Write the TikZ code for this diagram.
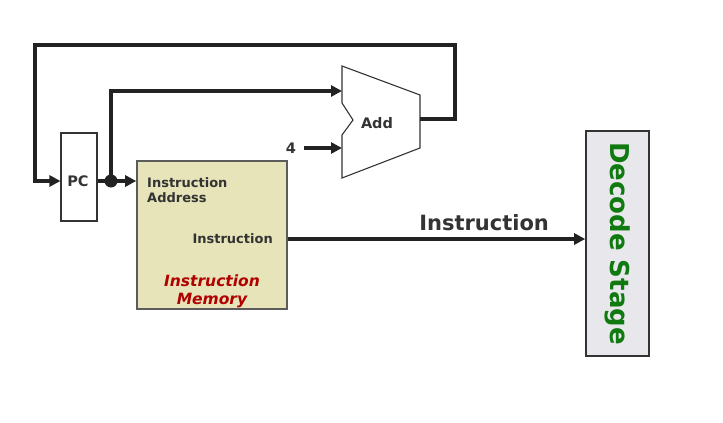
\documentclass[tikz,border=0pt]{standalone}
\usepackage{fontspec}
\setmainfont{DejaVu Sans}
\usetikzlibrary{arrows.meta,positioning}
\definecolor{wirecol}{HTML}{222222}
\definecolor{textcol}{HTML}{333333}
\definecolor{memfill}{HTML}{E6E4B8}
\definecolor{decfill}{HTML}{E8E8EC}
\definecolor{memred}{HTML}{B00000}
\definecolor{decgreen}{HTML}{107A10}
\begin{document}
\begin{tikzpicture}[x=1pt,y=-1pt,
    wire/.style={line width=3.8pt,draw=wirecol},
    tip/.style={-{Triangle[length=11pt,width=11pt]}},
    lbl/.style={font=\bfseries\fontsize{13}{15}\selectfont,text=textcol,inner sep=0pt}]
    \useasboundingbox (0,0) rectangle (723,423);

    % PC register and instruction memory
    \node[draw=textcol,line width=1.1pt,minimum width=36pt,minimum height=88pt] (pc) at (79,177) {};
    \node[lbl,font=\bfseries\fontsize{14.5}{16}\selectfont] (pclbl) at (78,181) {PC};
    \node[draw=textcol!80,line width=1.6pt,fill=memfill,minimum width=150pt,minimum height=148pt] (imem) at (212,235) {};
    \node[lbl,anchor=north west,align=left] (iaddr) at (147,177) {Instruction\\Address};
    \node[lbl,anchor=east] (iout) at (273,239) {Instruction};
    \node[font=\bfseries\itshape\fontsize{15.5}{18}\selectfont,text=memred,align=center,inner sep=0pt] (imemlbl) at (212,291) {Instruction\\Memory};

    % Decode stage
    \node[draw=textcol,line width=1.6pt,fill=decfill,minimum width=63pt,minimum height=225pt] (decode) at (617.5,243.5) {};
    \node[rotate=-90,font=\bfseries\fontsize{26}{30}\selectfont,text=decgreen,inner sep=0pt] (declbl) at (decode.center) {Decode Stage};

    % The adder
    \draw[draw=textcol,line width=1.1pt,fill=white] (342,66) -- (420,95) -- (420,148) -- (342,178)
        -- (342,135) -- (353,120) -- (342,103) -- cycle;
    \node[lbl,font=\bfseries\fontsize{14.5}{16}\selectfont] (add) at (377,123) {Add};
    \coordinate (addin1) at (342,91);
    \coordinate (addin2) at (342,148);
    \coordinate (addout) at (420,119);
    \node[lbl,font=\bfseries\fontsize{14.5}{16}\selectfont] (four) at (291,148) {4};

    % Wires
    \fill[wirecol] (111,181) circle (6.5pt) coordinate (split);
    \draw[wire] (pc.east |- split) -- (split);
    \draw[wire,tip] (split) -- (split -| imem.west);
    \draw[wire,tip] (split) |- (addin1);
    \draw[wire,tip] (four.east) ++(8,0) -- (addin2);
    \coordinate (loopR) at (455,45);
    \coordinate (loopL) at (35,181);
    \draw[wire,tip] (addout) -| (loopR) -| (loopL) -- (loopL -| pc.west);
    \draw[wire,tip] (iout.east -| imem.east) -- (iout.east -| decode.west)
        node[pos=0.66,above=3pt,font=\bfseries\fontsize{21}{24}\selectfont,text=textcol] {Instruction};
\end{tikzpicture}
\end{document}
